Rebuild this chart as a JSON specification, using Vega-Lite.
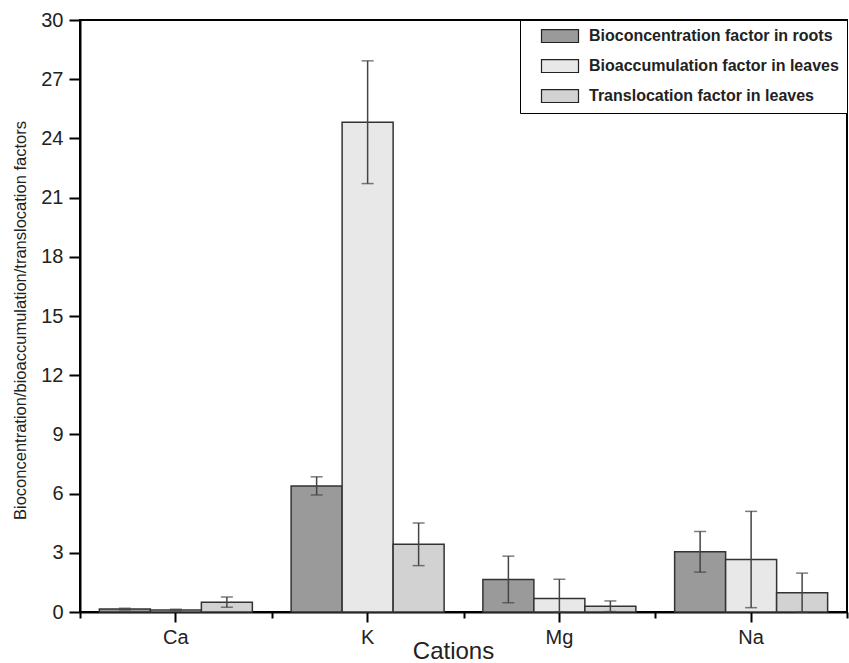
{
  "$schema": "https://vega.github.io/schema/vega-lite/v6.json",
  "width": 767,
  "height": 592,
  "autosize": {"type": "none"},
  "padding": {"left": 80, "top": 20, "right": 2, "bottom": 51},
  "background": "white",
  "config": {
    "font": "Liberation Sans",
    "view": {"stroke": "black", "strokeWidth": 2},
    "axis": {
      "domainColor": "black",
      "domainWidth": 2,
      "tickColor": "black",
      "tickWidth": 2,
      "labelColor": "#222",
      "labelFont": "Liberation Sans",
      "labelFontSize": 20,
      "titleFont": "Liberation Sans",
      "titleFontWeight": "normal",
      "titleColor": "#222",
      "grid": false
    }
  },
  "data": {
    "values": [
      {"Cation": "Ca", "Factor": "Bioconcentration factor in roots", "value": 0.15, "lo": 0.11, "hi": 0.19},
      {"Cation": "Ca", "Factor": "Bioaccumulation factor in leaves", "value": 0.10, "lo": 0.06, "hi": 0.14},
      {"Cation": "Ca", "Factor": "Translocation factor in leaves", "value": 0.50, "lo": 0.24, "hi": 0.76},
      {"Cation": "K", "Factor": "Bioconcentration factor in roots", "value": 6.39, "lo": 5.93, "hi": 6.85},
      {"Cation": "K", "Factor": "Bioaccumulation factor in leaves", "value": 24.82, "lo": 21.71, "hi": 27.93},
      {"Cation": "K", "Factor": "Translocation factor in leaves", "value": 3.43, "lo": 2.35, "hi": 4.51},
      {"Cation": "Mg", "Factor": "Bioconcentration factor in roots", "value": 1.65, "lo": 0.47, "hi": 2.83},
      {"Cation": "Mg", "Factor": "Bioaccumulation factor in leaves", "value": 0.69, "lo": -0.28, "hi": 1.66},
      {"Cation": "Mg", "Factor": "Translocation factor in leaves", "value": 0.29, "lo": 0.02, "hi": 0.56},
      {"Cation": "Na", "Factor": "Bioconcentration factor in roots", "value": 3.05, "lo": 2.02, "hi": 4.08},
      {"Cation": "Na", "Factor": "Bioaccumulation factor in leaves", "value": 2.66, "lo": 0.22, "hi": 5.10},
      {"Cation": "Na", "Factor": "Translocation factor in leaves", "value": 0.98, "lo": -0.01, "hi": 1.97}
    ]
  },
  "layer": [
    {
      "mark": {"type": "bar", "stroke": "#333", "strokeWidth": 1.5},
      "encoding": {
        "x": {
          "field": "Cation", "type": "nominal", "sort": ["Ca", "K", "Mg", "Na"],
          "scale": {"paddingInner": 0, "paddingOuter": 0},
          "axis": {"title": "Cations", "labelAngle": 0, "tickSize": 10, "labelPadding": 5, "titleFontSize": 24, "titleX": 373, "titleY": 46, "titleBaseline": "alphabetic", "titleAnchor": "start", "titleAlign": "center"}
        },
        "xOffset": {
          "field": "Factor", "type": "nominal",
          "sort": ["Bioconcentration factor in roots", "Bioaccumulation factor in leaves", "Translocation factor in leaves"],
          "scale": {"paddingInner": 0, "paddingOuter": 0.38}
        },
        "y": {
          "field": "value", "type": "quantitative",
          "scale": {"domain": [0, 30], "nice": false, "clamp": true},
          "axis": {"values": [0, 3, 6, 9, 12, 15, 18, 21, 24, 27, 30], "tickSize": 11, "labelPadding": 6, "title": "Bioconcentration/bioaccumulation/translocation factors", "titleFontSize": 16.5, "titleX": -60, "titleY": 300, "titleBaseline": "middle", "titleAlign": "center", "titleAnchor": "start"}
        },
        "fill": {
          "field": "Factor", "type": "nominal",
          "sort": ["Bioconcentration factor in roots", "Bioaccumulation factor in leaves", "Translocation factor in leaves"],
          "scale": {"range": ["#9a9a9a", "#e8e8e8", "#d2d2d2"]},
          "legend": {
            "title": null, "orient": "none", "legendX": 440, "legendY": 0,
            "padding": 8, "strokeColor": "black", "fillColor": "white",
            "symbolType": "M-4,-1.4H4V1.4H-4Z", "symbolSize": 85.56, "symbolOffset": 24,
            "symbolStrokeColor": "#222", "symbolStrokeWidth": 1.2,
            "labelFont": "Liberation Sans", "labelFontWeight": "bold", "labelFontSize": 16,
            "labelColor": "#222", "labelOffset": 21, "rowPadding": 12, "labelLimit": 400
          }
        }
      }
    },
    {
      "mark": {"type": "rule", "color": "#444", "strokeWidth": 1.5},
      "encoding": {
        "x": {
          "field": "Cation", "type": "nominal", "sort": ["Ca", "K", "Mg", "Na"],
          "axis": {"orient": "bottom", "tickBand": "extent", "labels": false, "title": null, "domain": false, "tickSize": 6}
        },
        "xOffset": {"field": "Factor", "type": "nominal", "sort": ["Bioconcentration factor in roots", "Bioaccumulation factor in leaves", "Translocation factor in leaves"]},
        "y": {"field": "lo", "type": "quantitative"},
        "y2": {"field": "hi"}
      }
    },
    {
      "mark": {"type": "tick", "color": "#444", "thickness": 1.5, "size": 12},
      "encoding": {
        "x": {"field": "Cation", "type": "nominal", "sort": ["Ca", "K", "Mg", "Na"], "axis": null},
        "xOffset": {"field": "Factor", "type": "nominal", "sort": ["Bioconcentration factor in roots", "Bioaccumulation factor in leaves", "Translocation factor in leaves"]},
        "y": {"field": "hi", "type": "quantitative"}
      }
    },
    {
      "mark": {"type": "tick", "color": "#444", "thickness": 1.5, "size": 12},
      "encoding": {
        "x": {"field": "Cation", "type": "nominal", "sort": ["Ca", "K", "Mg", "Na"], "axis": null},
        "xOffset": {"field": "Factor", "type": "nominal", "sort": ["Bioconcentration factor in roots", "Bioaccumulation factor in leaves", "Translocation factor in leaves"]},
        "y": {"field": "lo", "type": "quantitative"}
      }
    }
  ],
  "resolve": {"axis": {"x": "independent"}}
}
